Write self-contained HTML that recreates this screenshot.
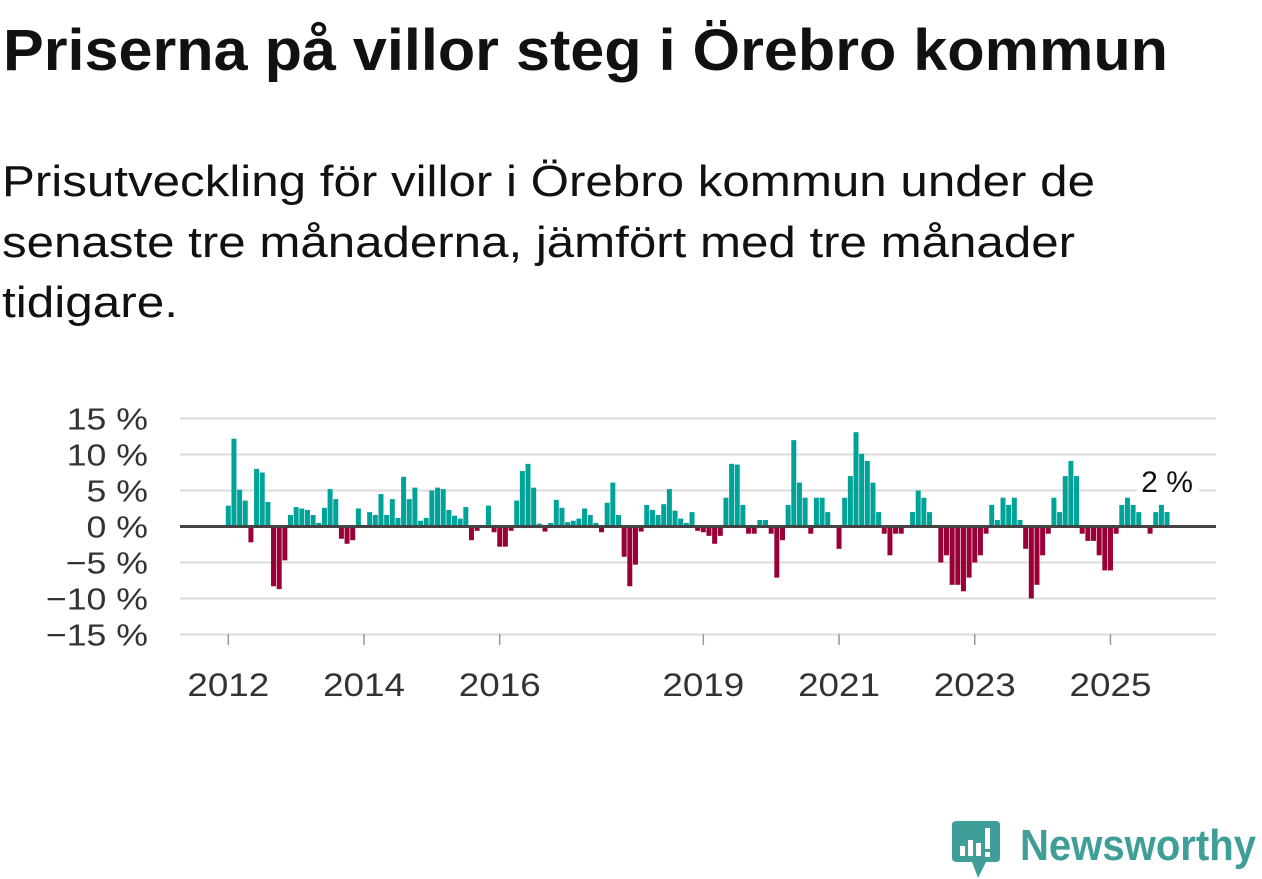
<!DOCTYPE html>
<html><head><meta charset="utf-8"><style>
html,body{margin:0;padding:0;background:#fff;}
svg{display:block;font-family:"Liberation Sans",sans-serif;}
</style></head><body>
<svg id="chart" width="1262" height="879" viewBox="0 0 1262 879">
<text x="3" y="70" font-size="58" font-weight="bold" fill="#111" textLength="1165" lengthAdjust="spacingAndGlyphs">Priserna på villor steg i Örebro kommun</text>
<g font-size="44" fill="#111">
<text x="2" y="196" textLength="1093" lengthAdjust="spacingAndGlyphs">Prisutveckling för villor i Örebro kommun under de</text>
<text x="2" y="257" textLength="1073" lengthAdjust="spacingAndGlyphs">senaste tre månaderna, jämfört med tre månader</text>
<text x="2" y="317" textLength="176" lengthAdjust="spacingAndGlyphs">tidigare.</text>
</g>
<g id="grid"></g>
<g id="bars"></g>
<g id="axes"></g>
<g>
<path d="M957 821 H996 Q1000 821 1000 825 V858 Q1000 862 996 862 H986 L978 878 L972 862 H957 Q952 862 952 858 V825 Q952 821 957 821 Z" fill="#3f9e98"/>
<rect x="960" y="846" width="5" height="10" fill="#fff"/>
<rect x="968" y="840" width="5" height="16" fill="#fff"/>
<rect x="976" y="843" width="5" height="13" fill="#fff"/>
<rect x="985" y="828" width="5" height="21" fill="#fff"/>
<rect x="985" y="852" width="5" height="5" fill="#fff"/>
<text x="1020" y="860" font-size="44" font-weight="bold" fill="#3f9e98" textLength="236" lengthAdjust="spacingAndGlyphs">Newsworthy</text>
</g>
</svg>
<script>
const values = [2.9,12.2,5.1,3.6,-2.2,8.0,7.5,3.4,-8.3,-8.7,-4.7,1.6,2.7,2.5,2.3,1.6,0.5,2.6,5.2,3.8,-1.7,-2.4,-1.9,2.5,0,2.0,1.6,4.5,1.6,3.8,1.2,6.9,3.8,5.4,0.8,1.2,5.0,5.4,5.2,2.3,1.5,1.1,2.7,-1.9,-0.6,0,2.9,-0.8,-2.8,-2.8,-0.6,3.6,7.7,8.7,5.4,0.4,-0.7,0.5,3.7,2.6,0.6,0.8,1.1,2.5,1.6,0.5,-0.8,3.3,6.1,1.6,-4.2,-8.3,-5.3,-0.7,3.0,2.3,1.6,3.1,5.2,2.2,1.1,0.5,2.0,-0.6,-0.8,-1.3,-2.4,-1.3,4.0,8.7,8.6,3.0,-1.0,-1.0,0.9,0.9,-1.0,-7.1,-1.9,3.0,12.0,6.1,4.0,-1.0,4.0,4.0,2.0,0,-3.1,4.0,7.0,13.1,10.1,9.1,6.1,2.0,-1.0,-4.0,-1.0,-1.0,0,2.0,5.0,4.0,2.0,0,-5.0,-4.0,-8.1,-8.1,-9.0,-7.1,-5.0,-4.0,-1.0,3.0,0.9,4.0,3.0,4.0,0.9,-3.1,-10.0,-8.1,-4.0,-1.0,4.0,2.0,7.0,9.1,7.0,-1.0,-2.0,-2.0,-4.0,-6.1,-6.1,-1.0,3.0,4.0,3.0,2.0,0,-1.0,2.0,3.0,2.0];
const yTicks = [15,10,5,0,-5,-10,-15];
const yTickLabels = ["15 %","10 %","5 %","0 %","\u22125 %","\u221210 %","\u221215 %"];
const xTickYears = [2012,2014,2016,2019,2021,2023,2025];
const startYear = 2012;
const lastLabel = "2 %";

const NS="http://www.w3.org/2000/svg";
const x0=228.3, step=5.655, y0=526.5, pxPer=7.2;
const xs=i=>x0+i*step;
const ys=v=>y0-v*pxPer;
function mk(tag,attrs,parent){const e=document.createElementNS(NS,tag);for(const k in attrs)e.setAttribute(k,attrs[k]);parent.appendChild(e);return e;}
function widen(t,f){const w=t.getComputedTextLength();t.setAttribute('textLength',w*f);t.setAttribute('lengthAdjust','spacingAndGlyphs');}
const grid=document.getElementById('grid'), bars=document.getElementById('bars'), axes=document.getElementById('axes');
yTicks.forEach((t,i)=>{
  if(t!==0){const l=mk('line',{x1:180,x2:1216,y1:ys(t),y2:ys(t),stroke:'#dcdcdc','stroke-width':2},grid);
  
  }
  const tx=mk('text',{x:148,y:ys(t)+11,'text-anchor':'end','font-size':31,fill:'#333'},axes);
  tx.textContent=yTickLabels[i];
  
  
  widen(tx,1.15);
});
values.forEach((v,i)=>{
  if(v===0)return;
  const r=mk('rect',{x:xs(i)-2.5,width:5,y:Math.min(ys(v),y0),height:Math.abs(v)*pxPer,fill:v>0?'#00a398':'#990038'},bars);
  
  
});
const z=mk('line',{x1:180,x2:1216,y1:y0,y2:y0,stroke:'#444','stroke-width':3},axes);


xTickYears.forEach(yr=>{
  const x=xs((yr-startYear)*12);
  const tk=mk('line',{x1:x,x2:x,y1:634,y2:645,stroke:'#999','stroke-width':1.5},axes);
  
  
  const t=mk('text',{x:x,y:696,'text-anchor':'middle','font-size':32,fill:'#333'},axes);
  t.textContent=yr;
  
  
  widen(t,1.15);
});
const lx=xs(values.length-1);
const bg=mk('rect',{x:lx-30,y:463,width:62,height:32,fill:'#fff'},axes);


const lt=mk('text',{x:lx,y:492,'text-anchor':'middle','font-size':30,fill:'#111'},axes);
lt.textContent=lastLabel;


</script>
</body></html>
